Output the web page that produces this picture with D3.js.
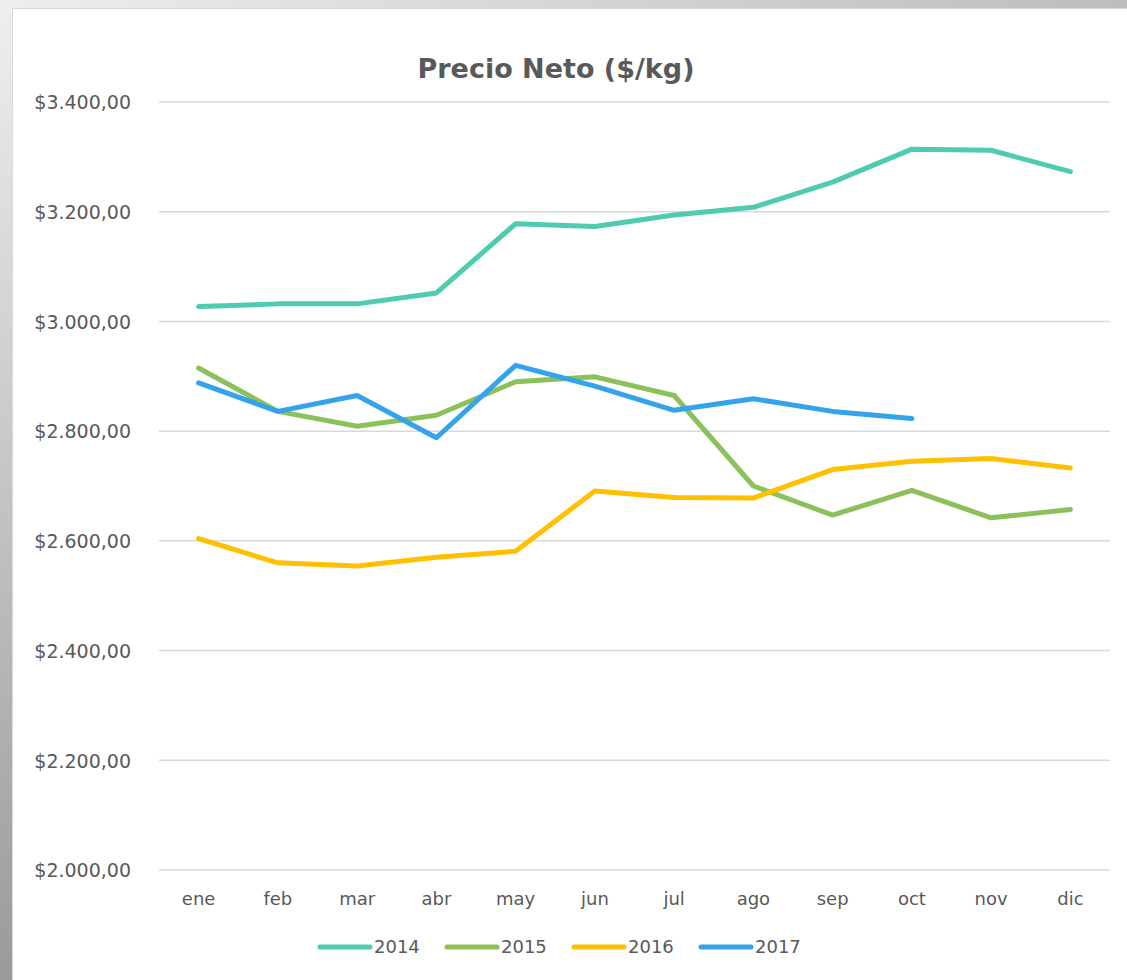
<!DOCTYPE html>
<html>
<head>
<meta charset="utf-8">
<script src="https://cdn.jsdelivr.net/npm/d3@7"></script>
<style>
  body { margin: 0; padding: 0; background: #fff; }
  svg { display: block; font-family: "DejaVu Sans", sans-serif; }
</style>
</head>
<body>
<svg width="1127" height="980"></svg>
<script>
// data
var months = ["ene", "feb", "mar", "abr", "may", "jun", "jul", "ago", "sep", "oct", "nov", "dic"];
var years = ["2014", "2015", "2016", "2017"];
var colors = ["#4ecbb0", "#8bc15a", "#ffc000", "#33a4ec"];
var v2014 = [3027, 3032, 3032, 3052, 3178, 3173, 3194, 3208, 3254, 3314, 3312, 3273];
var v2015 = [2915, 2836, 2809, 2829, 2890, 2899, 2865, 2700, 2647, 2692, 2642, 2657];
var v2016 = [2604, 2560, 2554, 2570, 2581, 2691, 2679, 2678, 2730, 2745, 2750, 2733];
var v2017 = [2888, 2836, 2865, 2788, 2920, 2882, 2838, 2859, 2836, 2823];
var yTicks = [2000, 2200, 2400, 2600, 2800, 3000, 3200, 3400];

var series = [v2014, v2015, v2016, v2017];

var svg = d3.select("svg"),
    width = 1127,
    height = 980;

// gray frame around the white panel
var defs = svg.append("defs");
var gLeft = defs.append("linearGradient").attr("id", "gl")
    .attr("x1", 0).attr("y1", 0).attr("x2", 0).attr("y2", 1);
gLeft.append("stop").attr("offset", "0%").attr("stop-color", "#efefef");
gLeft.append("stop").attr("offset", "100%").attr("stop-color", "#9a9a9a");
var gTop = defs.append("linearGradient").attr("id", "gt")
    .attr("x1", 0).attr("y1", 0).attr("x2", 1).attr("y2", 0);
gTop.append("stop").attr("offset", "0%").attr("stop-color", "#eeeeee");
gTop.append("stop").attr("offset", "100%").attr("stop-color", "#bdbdbd");

svg.append("rect").attr("width", width).attr("height", 8).attr("fill", "url(#gt)");
svg.append("rect").attr("width", 12).attr("height", height).attr("fill", "url(#gl)");
svg.append("rect")
    .attr("x", 12.5).attr("y", 8.5)
    .attr("width", width - 12).attr("height", height - 8)
    .attr("fill", "#fff")
    .attr("stroke", "#d9d9d9");

var margin = {left: 159, right: 17, top: 102, bottom: 110};

var x = d3.scaleBand()
    .domain(months)
    .range([margin.left, width - margin.right]);

var y = d3.scaleLinear()
    .domain([2000, 3400])
    .range([height - margin.bottom, margin.top]);

var fmt = function(d) {
  return "$" + d3.format(",.2f")(d).replace(/,/g, "#").replace(".", ",").replace(/#/g, ".");
};

// gridlines
svg.append("g")
  .selectAll("line")
  .data(yTicks)
  .join("line")
    .attr("x1", margin.left)
    .attr("x2", width - margin.right)
    .attr("y1", d => y(d))
    .attr("y2", d => y(d))
    .attr("stroke", "#d9d9d9")
    .attr("stroke-width", 1.5);

// y axis labels
var yAxis = svg.append("g")
    .attr("transform", "translate(" + (margin.left - 28) + ",0)")
    .call(d3.axisLeft(y).tickValues(yTicks).tickFormat(fmt).tickSize(0).tickPadding(0));
yAxis.select(".domain").remove();
yAxis.attr("font-family", null).attr("font-size", null);
yAxis.selectAll("text")
    .attr("fill", "#595959")
    .style("font-family", "'DejaVu Sans', sans-serif")
    .style("font-size", "19px")
    .attr("dy", "0.36em");

// x axis labels
var xAxis = svg.append("g")
    .attr("transform", "translate(0," + (height - margin.bottom) + ")")
    .call(d3.axisBottom(x).tickSize(0).tickPadding(22));
xAxis.select(".domain").remove();
xAxis.attr("font-family", null).attr("font-size", null);
xAxis.selectAll("text")
    .attr("fill", "#595959")
    .style("font-family", "'DejaVu Sans', sans-serif")
    .style("font-size", "18px");

// lines
var line = d3.line()
    .x((d, i) => x(months[i]) + x.bandwidth() / 2)
    .y(d => y(d));

svg.append("g")
  .selectAll("path")
  .data(series)
  .join("path")
    .attr("fill", "none")
    .attr("stroke", (d, i) => colors[i])
    .attr("stroke-width", 5)
    .attr("stroke-linejoin", "round")
    .attr("stroke-linecap", "round")
    .attr("d", line);

// title
svg.append("text")
    .attr("x", 556)
    .attr("y", 78)
    .attr("text-anchor", "middle")
    .attr("fill", "#595959")
    .style("font-size", "27px")
    .style("font-weight", "bold")
    .text("Precio Neto ($/kg)");

// legend
var legend = svg.append("g")
  .selectAll("g")
  .data(years)
  .join("g")
    .attr("transform", (d, i) => "translate(" + (320 + i * 127) + ",947)");

legend.append("line")
    .attr("x1", 0).attr("x2", 50)
    .attr("stroke", (d, i) => colors[i])
    .attr("stroke-width", 5)
    .attr("stroke-linecap", "round");

legend.append("text")
    .attr("x", 54)
    .attr("dy", "0.36em")
    .attr("fill", "#595959")
    .style("font-size", "18px")
    .text(d => d);
</script>
</body>
</html>
